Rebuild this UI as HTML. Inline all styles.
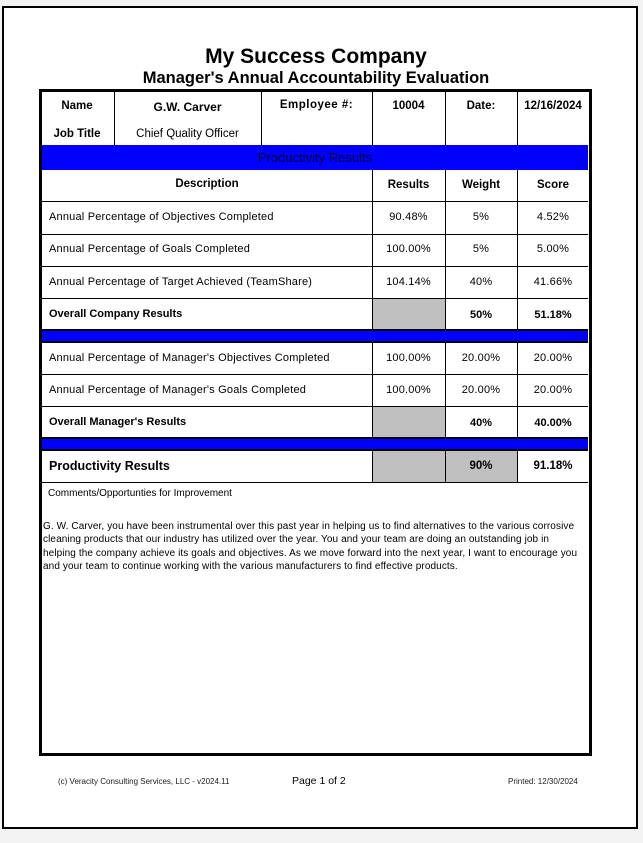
<!DOCTYPE html>
<html><head><meta charset="utf-8"><style>
html,body{margin:0;padding:0;}
body{width:643px;height:843px;background:#f3f3f3;position:relative;overflow:hidden;font-family:"Liberation Sans",Arial,sans-serif;color:#000;}
.page{position:absolute;left:2px;top:6px;width:632px;height:819px;background:#fff;border:2px solid #000;}
.a{position:absolute;}
.t{position:absolute;text-align:center;white-space:nowrap;}
.h{position:absolute;height:1px;background:#000;}
.v{position:absolute;width:1px;background:#000;}
.blue{position:absolute;background:#0000ff;}
.grey{position:absolute;background:#c0c0c0;}
.s{font-size:11px;letter-spacing:0.2px;}
.b{font-weight:bold;font-size:11.5px;}
</style></head><body>
<div class="page"></div>
<div class="t" style="left:0;width:632px;top:45px;font-size:21px;font-weight:bold;">My Success Company</div>
<div class="t" style="left:0;width:632px;top:69px;font-size:16.5px;font-weight:bold;">Manager's Annual Accountability Evaluation</div>

<div class="a" style="left:39px;top:89px;width:547px;height:661px;border:3px solid #000;"></div>

<div class="v" style="left:114px;top:91px;height:54px;"></div>
<div class="v" style="left:261px;top:91px;height:54px;"></div>
<div class="v" style="left:372px;top:91px;height:392px;"></div>
<div class="v" style="left:445px;top:91px;height:392px;"></div>
<div class="v" style="left:517px;top:91px;height:392px;"></div>

<div class="t b" style="left:40px;width:74px;top:100px;">Name</div>
<div class="t b" style="left:40px;width:74px;top:128px;">Job Title</div>
<div class="t b" style="left:114px;width:147px;top:100px;font-size:12px;">G.W. Carver</div>
<div class="t" style="left:114px;width:147px;top:128px;font-size:11.5px;">Chief Quality Officer</div>
<div class="t b" style="left:261px;width:111px;top:99px;letter-spacing:0.5px;">Employee #:</div>
<div class="t b" style="left:372px;width:73px;top:100px;">10004</div>
<div class="t b" style="left:445px;width:72px;top:100px;">Date:</div>
<div class="t b" style="left:517px;width:72px;top:100px;">12/16/2024</div>

<div class="blue" style="left:42px;top:145px;width:546px;height:25px;"></div>
<div class="t" style="left:42px;width:546px;top:150px;font-size:13px;color:#000033;">Productivity Results</div>

<div class="t b" style="left:42px;width:330px;top:178px;">Description</div>
<div class="t b" style="left:372px;width:73px;top:179px;">Results</div>
<div class="t b" style="left:445px;width:72px;top:179px;">Weight</div>
<div class="t b" style="left:517px;width:72px;top:179px;">Score</div>
<div class="h" style="left:42px;top:201px;width:546px;"></div>

<div class="t s" style="left:49px;top:211px;text-align:left;">Annual Percentage of Objectives Completed</div>
<div class="t s" style="left:372px;width:73px;top:211px;">90.48%</div>
<div class="t s" style="left:445px;width:72px;top:211px;">5%</div>
<div class="t s" style="left:517px;width:72px;top:211px;">4.52%</div>
<div class="h" style="left:42px;top:234px;width:546px;"></div>

<div class="t s" style="left:49px;top:243px;text-align:left;">Annual Percentage of Goals Completed</div>
<div class="t s" style="left:372px;width:73px;top:243px;">100.00%</div>
<div class="t s" style="left:445px;width:72px;top:243px;">5%</div>
<div class="t s" style="left:517px;width:72px;top:243px;">5.00%</div>
<div class="h" style="left:42px;top:266px;width:546px;"></div>

<div class="t s" style="left:49px;top:276px;text-align:left;">Annual Percentage of Target Achieved (TeamShare)</div>
<div class="t s" style="left:372px;width:73px;top:276px;">104.14%</div>
<div class="t s" style="left:445px;width:72px;top:276px;">40%</div>
<div class="t s" style="left:517px;width:72px;top:276px;">41.66%</div>
<div class="h" style="left:42px;top:298px;width:546px;"></div>

<div class="grey" style="left:373px;top:299px;width:72px;height:31px;"></div>
<div class="t b" style="left:49px;top:308px;text-align:left;font-size:11px;">Overall Company Results</div>
<div class="t b" style="left:445px;width:72px;top:309px;font-size:11px;">50%</div>
<div class="t b" style="left:517px;width:72px;top:309px;font-size:11px;">51.18%</div>

<div class="h" style="left:42px;top:329px;width:546px;height:2px;"></div>
<div class="blue" style="left:42px;top:331px;width:546px;height:11px;"></div>
<div class="h" style="left:42px;top:341px;width:546px;height:2px;"></div>

<div class="t s" style="left:49px;top:352px;text-align:left;">Annual Percentage of Manager's Objectives Completed</div>
<div class="t s" style="left:372px;width:73px;top:352px;">100.00%</div>
<div class="t s" style="left:445px;width:72px;top:352px;">20.00%</div>
<div class="t s" style="left:517px;width:72px;top:352px;">20.00%</div>
<div class="h" style="left:42px;top:374px;width:546px;"></div>

<div class="t s" style="left:49px;top:384px;text-align:left;">Annual Percentage of Manager's Goals Completed</div>
<div class="t s" style="left:372px;width:73px;top:384px;">100.00%</div>
<div class="t s" style="left:445px;width:72px;top:384px;">20.00%</div>
<div class="t s" style="left:517px;width:72px;top:384px;">20.00%</div>
<div class="h" style="left:42px;top:406px;width:546px;"></div>

<div class="grey" style="left:373px;top:407px;width:72px;height:31px;"></div>
<div class="t b" style="left:49px;top:416px;text-align:left;font-size:11px;">Overall Manager's Results</div>
<div class="t b" style="left:445px;width:72px;top:417px;font-size:11px;">40%</div>
<div class="t b" style="left:517px;width:72px;top:417px;font-size:11px;">40.00%</div>

<div class="h" style="left:42px;top:437px;width:546px;height:2px;"></div>
<div class="blue" style="left:42px;top:439px;width:546px;height:11px;"></div>
<div class="h" style="left:42px;top:449px;width:546px;height:2px;"></div>

<div class="grey" style="left:373px;top:451px;width:144px;height:31px;"></div>
<div class="v" style="left:445px;top:451px;height:31px;"></div>
<div class="t b" style="left:49px;top:459px;text-align:left;font-size:12.5px;">Productivity Results</div>
<div class="t b" style="left:445px;width:72px;top:460px;">90%</div>
<div class="t b" style="left:517px;width:72px;top:460px;">91.18%</div>
<div class="h" style="left:42px;top:482px;width:546px;"></div>

<div class="t" style="left:48px;top:488px;text-align:left;font-size:10px;">Comments/Opportunties for Improvement</div>
<div class="a" style="left:43px;top:520px;width:546px;font-size:10px;line-height:13.3px;letter-spacing:0.1px;white-space:nowrap;">G. W. Carver, you have been instrumental over this past year in helping us to find alternatives to the various corrosive<br>cleaning products that our industry has utilized over the year. You and your team are doing an outstanding job in<br>helping the company achieve its goals and objectives. As we move forward into the next year, I want to encourage you<br>and your team to continue working with the various manufacturers to find effective products.</div>

<div class="t" style="left:58px;top:777px;font-size:8px;color:#222;">(c) Veracity Consulting Services, LLC - v2024.11</div>
<div class="t" style="left:292px;top:775px;font-size:10.5px;">Page 1 of 2</div>
<div class="t" style="left:508px;top:777px;font-size:8px;color:#222;">Printed: 12/30/2024</div>
</body></html>
